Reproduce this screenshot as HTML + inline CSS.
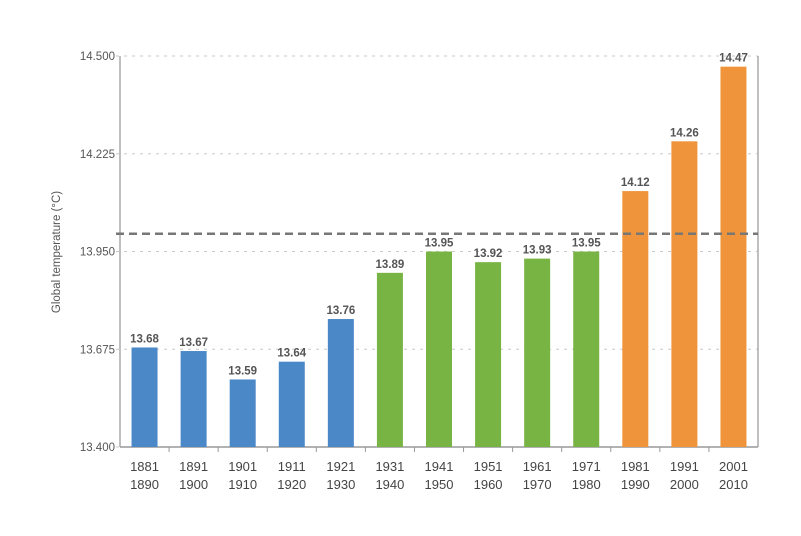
<!DOCTYPE html>
<html><head><meta charset="utf-8"><style>
body{margin:0;background:#fff;width:801px;height:531px;overflow:hidden;font-family:"Liberation Sans",sans-serif}
</style></head><body>
<svg id="chart" width="801" height="531" xmlns="http://www.w3.org/2000/svg"></svg>
<script>
const categories=[["1881","1890"],["1891","1900"],["1901","1910"],["1911","1920"],["1921","1930"],["1931","1940"],["1941","1950"],["1951","1960"],["1961","1970"],["1971","1980"],["1981","1990"],["1991","2000"],["2001","2010"]];
const values=[13.68,13.67,13.59,13.64,13.76,13.89,13.95,13.92,13.93,13.95,14.12,14.26,14.47];
const colorGroups=["blue","blue","blue","blue","blue","green","green","green","green","green","orange","orange","orange"];
const yTicks=[13.4,13.675,13.95,14.225,14.5];
const yTickLabels=["13.400","13.675","13.950","14.225","14.500"];
const referenceValue=14.0;

const svg=document.getElementById('chart');
const NS="http://www.w3.org/2000/svg";
const L=120,R=758,T=56,B=447,yMin=13.4,yMax=14.5;
const pal={blue:"#4a88c8",green:"#78b443",orange:"#ef943a"};
const y=v=>B-(v-yMin)/(yMax-yMin)*(B-T);
const bw=(R-L)/categories.length;
const x=i=>L+bw*(i+0.5);
function mk(tag,attrs,parent){const e=document.createElementNS(NS,tag);for(const k in attrs)e.setAttribute(k,attrs[k]);(parent||svg).appendChild(e);return e;}

yTicks.forEach((t,i)=>{
  const g=mk('g',{});
  
  
  mk('line',{x1:L-4,x2:R,y1:y(t),y2:y(t),stroke:"#c8c8c8","stroke-width":1,"stroke-dasharray":"3,5"},g);
  const tx=mk('text',{x:L-5,y:y(t)+4,"text-anchor":"end","font-size":11.5,fill:"#555"},g);
  
  
  tx.textContent=yTickLabels[i];
});
const ax=mk('line',{x1:L,x2:L,y1:T,y2:B,stroke:"#aaa","stroke-width":1.5});


const ax2=mk('line',{x1:R,x2:R,y1:T,y2:B,stroke:"#aaa","stroke-width":1.5});


const xa=mk('line',{x1:L,x2:R,y1:B,y2:B,stroke:"#999","stroke-width":1.5});



values.forEach((v,i)=>{
  const r=mk('rect',{x:x(i)-13,y:y(v),width:26,height:B-y(v),fill:pal[colorGroups[i]]});
  
  
  const t=mk('text',{x:x(i),y:y(v)-5,"text-anchor":"middle","font-size":11.5,"font-weight":"bold",fill:"#555"});
  
  
  t.textContent=v.toFixed(2);
  if(i>0){const tk=mk('line',{x1:L+bw*i,x2:L+bw*i,y1:B,y2:B+5,stroke:"#999"});
  
  }
  const l1=mk('text',{x:x(i),y:B+24,"text-anchor":"middle","font-size":13,fill:"#444"});
  
  
  l1.textContent=categories[i][0];
  const l2=mk('text',{x:x(i),y:B+42,"text-anchor":"middle","font-size":13,fill:"#444"});
  
  
  l2.textContent=categories[i][1];
});

const ref=mk('line',{x1:L-4,x2:R,y1:y(referenceValue),y2:y(referenceValue),stroke:"#777","stroke-width":2.5,"stroke-dasharray":"8,5"});



const yt=mk('text',{x:0,y:0,transform:"translate(60,252) rotate(-90)","text-anchor":"middle","font-size":11.5,fill:"#555"});


yt.textContent="Global temperature (°C)";
</script>
</body></html>
